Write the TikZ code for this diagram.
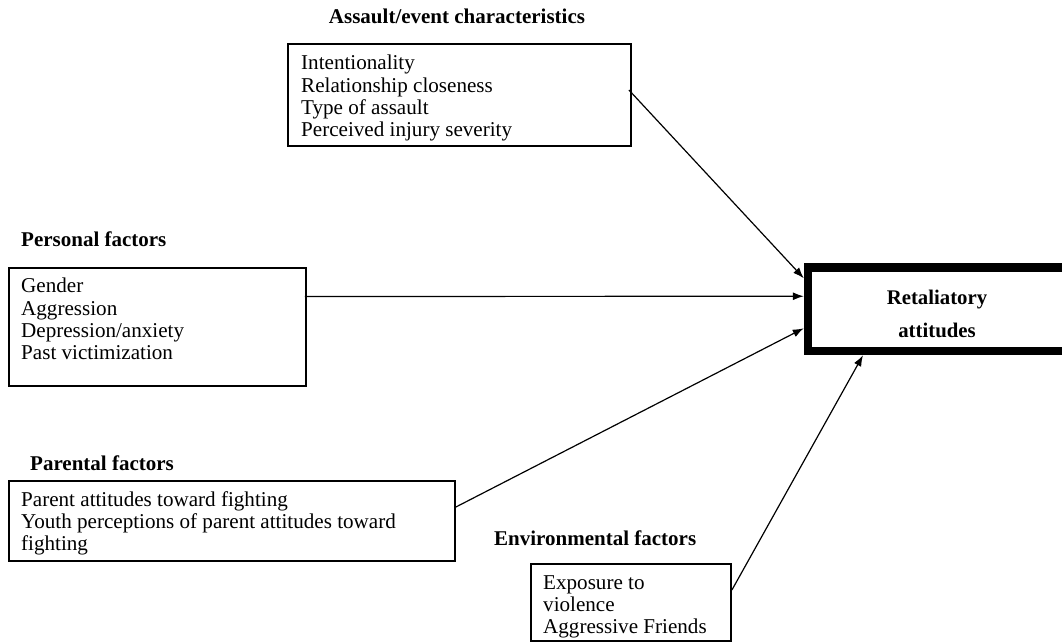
\documentclass[tikz,border=0pt]{standalone}
\usepackage{fontspec}
\setmainfont{Liberation Serif}
\usetikzlibrary{arrows.meta,calc}
\begin{document}
\begin{tikzpicture}[x=1pt,y=-1pt,
  box/.style={draw=black,line width=1.8pt,inner sep=0pt,rectangle},
  txt/.style={anchor=north west,inner sep=0pt,align=left,font=\fontsize{21.1}{22.3}\selectfont},
  ttl/.style={inner sep=0pt,font=\fontsize{21}{22}\selectfont\bfseries},
  arr/.style={line width=1.2pt,-{Latex[length=11pt,width=8pt]}}]
\path[use as bounding box] (0,0) rectangle (1062,644);
\clip (0,0) rectangle (1062,644);
% boxes
\node[box,minimum width=343pt,minimum height=102pt] (a) at (459.5,95) {};
\node[box,minimum width=297pt,minimum height=118pt] (p) at (157.5,327) {};
\node[box,minimum width=446pt,minimum height=80pt] (pa) at (232,521) {};
\node[box,minimum width=200pt,minimum height=77pt] (e) at (631,602.5) {};
\node[box,line width=8.5pt,minimum width=258pt,minimum height=83.5pt] (r) at (937,309.25) {};
% titles
\node[ttl,anchor=base] (at) at (457,24) {Assault/event characteristics};
\node[ttl,anchor=base west] (pt) at (21,247) {Personal factors};
\node[ttl,anchor=base west] (pat) at (30,470) {Parental factors};
\node[ttl,anchor=base west] (et) at (494,545) {Environmental factors};
% texts
\node[txt] (ax) at (301,55) {Intentionality\\Relationship closeness\\Type of assault\\Perceived injury severity};
\node[txt] (px) at (21,278) {Gender\\Aggression\\Depression/anxiety\\Past victimization};
\node[txt] (pax) at (21,491) {Parent attitudes toward fighting\\Youth perceptions of parent attitudes toward\\fighting};
\node[txt] (ex) at (543,575) {Exposure to\\violence\\Aggressive Friends};
\node[anchor=north,inner sep=0pt,align=center,font=\fontsize{20.8}{33}\selectfont\bfseries] (rx) at (937,290) {Retaliatory\\attitudes};
% arrows
\draw[arr] ($(a.east)+(-3,-5)$) -- ($(r.west)+(0,-31)$);
\draw[arr] ($(p.east)+(-2,-30.5)$) -- ($(r.west)+(0,-13)$);
\draw[arr] ($(pa.east)+(0,-14)$) -- ($(r.west)+(0,19)$);
\draw[arr] ($(e.east)+(0,-12.5)$) -- ($(r.south)+(-74,0)$);
\end{tikzpicture}
\end{document}
